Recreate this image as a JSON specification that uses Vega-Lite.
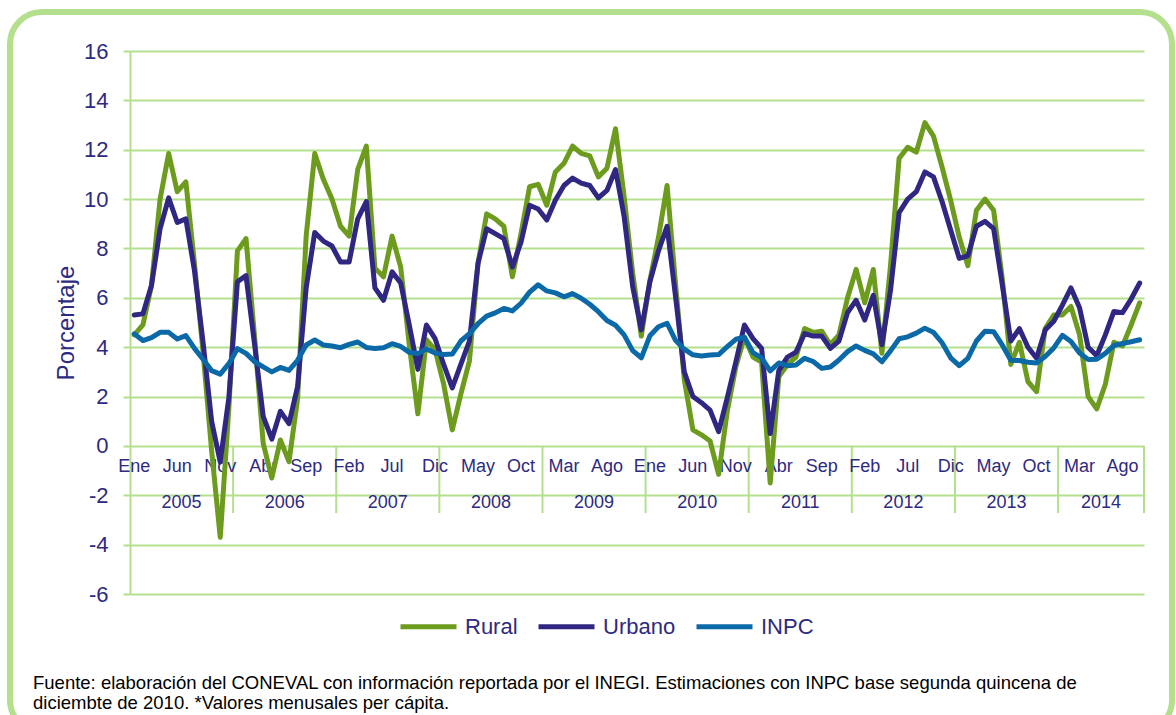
{
  "$schema": "https://vega.github.io/schema/vega-lite/v6.json",
  "autosize": {"type": "none"},
  "width": 1162,
  "height": 720,
  "padding": {"left": 10, "top": 12, "right": 4, "bottom": -17},
  "background": "white",
  "config": {
    "font": "Liberation Sans",
    "view": {"stroke": "#b4df8c", "strokeWidth": 6, "cornerRadius": 32}
  },
  "title": {
    "text": ["Fuente: elaboración del CONEVAL con información reportada por el INEGI. Estimaciones con INPC base segunda quincena de", "diciembte de 2010. *Valores menusales per cápita."],
    "orient": "bottom",
    "anchor": "start",
    "frame": "group",
    "offset": -58,
    "dx": 23,
    "fontSize": 18.5,
    "fontWeight": "normal",
    "color": "#000000",
    "font": "Liberation Sans",
    "lineHeight": 20
  },
  "data": {"values": [
    {"i":0,"anio":"2005","mes":"Ene","Rural":4.5,"Urbano":5.3,"INPC":4.54},
    {"i":1,"anio":"2005","mes":"Feb","Rural":4.9,"Urbano":5.35,"INPC":4.27},
    {"i":2,"anio":"2005","mes":"Mar","Rural":6.5,"Urbano":6.5,"INPC":4.39},
    {"i":3,"anio":"2005","mes":"Abr","Rural":10.0,"Urbano":8.8,"INPC":4.60},
    {"i":4,"anio":"2005","mes":"May","Rural":11.85,"Urbano":10.05,"INPC":4.60},
    {"i":5,"anio":"2005","mes":"Jun","Rural":10.3,"Urbano":9.05,"INPC":4.33},
    {"i":6,"anio":"2005","mes":"Jul","Rural":10.7,"Urbano":9.2,"INPC":4.47},
    {"i":7,"anio":"2005","mes":"Ago","Rural":7.4,"Urbano":7.1,"INPC":3.95},
    {"i":8,"anio":"2005","mes":"Sep","Rural":3.8,"Urbano":4.2,"INPC":3.51},
    {"i":9,"anio":"2005","mes":"Oct","Rural":-0.2,"Urbano":1.0,"INPC":3.05},
    {"i":10,"anio":"2005","mes":"Nov","Rural":-3.7,"Urbano":-0.65,"INPC":2.91},
    {"i":11,"anio":"2005","mes":"Dic","Rural":1.5,"Urbano":1.95,"INPC":3.33},
    {"i":12,"anio":"2006","mes":"Ene","Rural":7.9,"Urbano":6.65,"INPC":3.94},
    {"i":13,"anio":"2006","mes":"Feb","Rural":8.4,"Urbano":6.9,"INPC":3.75},
    {"i":14,"anio":"2006","mes":"Mar","Rural":4.4,"Urbano":4.1,"INPC":3.41},
    {"i":15,"anio":"2006","mes":"Abr","Rural":0.1,"Urbano":1.2,"INPC":3.20},
    {"i":16,"anio":"2006","mes":"May","Rural":-1.3,"Urbano":0.27,"INPC":3.00},
    {"i":17,"anio":"2006","mes":"Jun","Rural":0.24,"Urbano":1.4,"INPC":3.18},
    {"i":18,"anio":"2006","mes":"Jul","Rural":-0.64,"Urbano":0.9,"INPC":3.06},
    {"i":19,"anio":"2006","mes":"Ago","Rural":1.9,"Urbano":2.4,"INPC":3.47},
    {"i":20,"anio":"2006","mes":"Sep","Rural":8.5,"Urbano":6.4,"INPC":4.09},
    {"i":21,"anio":"2006","mes":"Oct","Rural":11.85,"Urbano":8.65,"INPC":4.29},
    {"i":22,"anio":"2006","mes":"Nov","Rural":10.8,"Urbano":8.3,"INPC":4.09},
    {"i":23,"anio":"2006","mes":"Dic","Rural":10.0,"Urbano":8.1,"INPC":4.05},
    {"i":24,"anio":"2007","mes":"Ene","Rural":8.9,"Urbano":7.45,"INPC":3.98},
    {"i":25,"anio":"2007","mes":"Feb","Rural":8.5,"Urbano":7.45,"INPC":4.11},
    {"i":26,"anio":"2007","mes":"Mar","Rural":11.2,"Urbano":9.2,"INPC":4.21},
    {"i":27,"anio":"2007","mes":"Abr","Rural":12.15,"Urbano":9.9,"INPC":3.99},
    {"i":28,"anio":"2007","mes":"May","Rural":7.2,"Urbano":6.4,"INPC":3.95},
    {"i":29,"anio":"2007","mes":"Jun","Rural":6.85,"Urbano":5.9,"INPC":3.98},
    {"i":30,"anio":"2007","mes":"Jul","Rural":8.5,"Urbano":7.05,"INPC":4.14},
    {"i":31,"anio":"2007","mes":"Ago","Rural":7.25,"Urbano":6.6,"INPC":4.03},
    {"i":32,"anio":"2007","mes":"Sep","Rural":4.1,"Urbano":4.9,"INPC":3.79},
    {"i":33,"anio":"2007","mes":"Oct","Rural":1.3,"Urbano":3.1,"INPC":3.74},
    {"i":34,"anio":"2007","mes":"Nov","Rural":4.3,"Urbano":4.9,"INPC":3.93},
    {"i":35,"anio":"2007","mes":"Dic","Rural":3.9,"Urbano":4.35,"INPC":3.76},
    {"i":36,"anio":"2008","mes":"Ene","Rural":2.5,"Urbano":3.3,"INPC":3.70},
    {"i":37,"anio":"2008","mes":"Feb","Rural":0.65,"Urbano":2.35,"INPC":3.72},
    {"i":38,"anio":"2008","mes":"Mar","Rural":2.1,"Urbano":3.3,"INPC":4.25},
    {"i":39,"anio":"2008","mes":"Abr","Rural":3.45,"Urbano":4.25,"INPC":4.55},
    {"i":40,"anio":"2008","mes":"May","Rural":7.4,"Urbano":7.4,"INPC":4.95},
    {"i":41,"anio":"2008","mes":"Jun","Rural":9.4,"Urbano":8.8,"INPC":5.26},
    {"i":42,"anio":"2008","mes":"Jul","Rural":9.2,"Urbano":8.6,"INPC":5.39},
    {"i":43,"anio":"2008","mes":"Ago","Rural":8.9,"Urbano":8.4,"INPC":5.57},
    {"i":44,"anio":"2008","mes":"Sep","Rural":6.85,"Urbano":7.25,"INPC":5.47},
    {"i":45,"anio":"2008","mes":"Oct","Rural":8.6,"Urbano":8.25,"INPC":5.78},
    {"i":46,"anio":"2008","mes":"Nov","Rural":10.5,"Urbano":9.75,"INPC":6.23},
    {"i":47,"anio":"2008","mes":"Dic","Rural":10.6,"Urbano":9.6,"INPC":6.53},
    {"i":48,"anio":"2009","mes":"Ene","Rural":9.75,"Urbano":9.15,"INPC":6.28},
    {"i":49,"anio":"2009","mes":"Feb","Rural":11.1,"Urbano":9.95,"INPC":6.20},
    {"i":50,"anio":"2009","mes":"Mar","Rural":11.45,"Urbano":10.55,"INPC":6.04},
    {"i":51,"anio":"2009","mes":"Abr","Rural":12.15,"Urbano":10.85,"INPC":6.17},
    {"i":52,"anio":"2009","mes":"May","Rural":11.85,"Urbano":10.65,"INPC":5.98},
    {"i":53,"anio":"2009","mes":"Jun","Rural":11.75,"Urbano":10.55,"INPC":5.74},
    {"i":54,"anio":"2009","mes":"Jul","Rural":10.9,"Urbano":10.05,"INPC":5.44},
    {"i":55,"anio":"2009","mes":"Ago","Rural":11.25,"Urbano":10.35,"INPC":5.08},
    {"i":56,"anio":"2009","mes":"Sep","Rural":12.85,"Urbano":11.2,"INPC":4.89},
    {"i":57,"anio":"2009","mes":"Oct","Rural":10.1,"Urbano":9.3,"INPC":4.50},
    {"i":58,"anio":"2009","mes":"Nov","Rural":7.0,"Urbano":6.45,"INPC":3.86},
    {"i":59,"anio":"2009","mes":"Dic","Rural":4.45,"Urbano":4.7,"INPC":3.57},
    {"i":60,"anio":"2010","mes":"Ene","Rural":6.7,"Urbano":6.65,"INPC":4.46},
    {"i":61,"anio":"2010","mes":"Feb","Rural":8.45,"Urbano":7.9,"INPC":4.83},
    {"i":62,"anio":"2010","mes":"Mar","Rural":10.55,"Urbano":8.9,"INPC":4.97},
    {"i":63,"anio":"2010","mes":"Abr","Rural":6.5,"Urbano":6.0,"INPC":4.27},
    {"i":64,"anio":"2010","mes":"May","Rural":2.7,"Urbano":3.0,"INPC":3.92},
    {"i":65,"anio":"2010","mes":"Jun","Rural":0.65,"Urbano":2.0,"INPC":3.69},
    {"i":66,"anio":"2010","mes":"Jul","Rural":0.45,"Urbano":1.75,"INPC":3.64},
    {"i":67,"anio":"2010","mes":"Ago","Rural":0.2,"Urbano":1.45,"INPC":3.68},
    {"i":68,"anio":"2010","mes":"Sep","Rural":-1.15,"Urbano":0.58,"INPC":3.70},
    {"i":69,"anio":"2010","mes":"Oct","Rural":1.4,"Urbano":1.95,"INPC":4.02},
    {"i":70,"anio":"2010","mes":"Nov","Rural":3.2,"Urbano":3.4,"INPC":4.32},
    {"i":71,"anio":"2010","mes":"Dic","Rural":4.4,"Urbano":4.9,"INPC":4.40},
    {"i":72,"anio":"2011","mes":"Ene","Rural":3.6,"Urbano":4.35,"INPC":3.78},
    {"i":73,"anio":"2011","mes":"Feb","Rural":3.4,"Urbano":3.95,"INPC":3.57},
    {"i":74,"anio":"2011","mes":"Mar","Rural":-1.5,"Urbano":0.5,"INPC":3.04},
    {"i":75,"anio":"2011","mes":"Abr","Rural":2.8,"Urbano":3.05,"INPC":3.36},
    {"i":76,"anio":"2011","mes":"May","Rural":3.3,"Urbano":3.6,"INPC":3.25},
    {"i":77,"anio":"2011","mes":"Jun","Rural":3.6,"Urbano":3.8,"INPC":3.28},
    {"i":78,"anio":"2011","mes":"Jul","Rural":4.75,"Urbano":4.55,"INPC":3.55},
    {"i":79,"anio":"2011","mes":"Ago","Rural":4.6,"Urbano":4.45,"INPC":3.42},
    {"i":80,"anio":"2011","mes":"Sep","Rural":4.65,"Urbano":4.45,"INPC":3.14},
    {"i":81,"anio":"2011","mes":"Oct","Rural":4.1,"Urbano":3.95,"INPC":3.20},
    {"i":82,"anio":"2011","mes":"Nov","Rural":4.5,"Urbano":4.25,"INPC":3.48},
    {"i":83,"anio":"2011","mes":"Dic","Rural":6.0,"Urbano":5.4,"INPC":3.82},
    {"i":84,"anio":"2012","mes":"Ene","Rural":7.15,"Urbano":5.9,"INPC":4.05},
    {"i":85,"anio":"2012","mes":"Feb","Rural":5.8,"Urbano":5.1,"INPC":3.87},
    {"i":86,"anio":"2012","mes":"Mar","Rural":7.15,"Urbano":6.1,"INPC":3.73},
    {"i":87,"anio":"2012","mes":"Abr","Rural":3.75,"Urbano":4.1,"INPC":3.41},
    {"i":88,"anio":"2012","mes":"May","Rural":7.3,"Urbano":6.3,"INPC":3.85},
    {"i":89,"anio":"2012","mes":"Jun","Rural":11.65,"Urbano":9.45,"INPC":4.34},
    {"i":90,"anio":"2012","mes":"Jul","Rural":12.1,"Urbano":10.0,"INPC":4.42},
    {"i":91,"anio":"2012","mes":"Ago","Rural":11.9,"Urbano":10.3,"INPC":4.57},
    {"i":92,"anio":"2012","mes":"Sep","Rural":13.1,"Urbano":11.1,"INPC":4.77},
    {"i":93,"anio":"2012","mes":"Oct","Rural":12.55,"Urbano":10.9,"INPC":4.60},
    {"i":94,"anio":"2012","mes":"Nov","Rural":11.3,"Urbano":9.9,"INPC":4.18},
    {"i":95,"anio":"2012","mes":"Dic","Rural":9.95,"Urbano":8.75,"INPC":3.57},
    {"i":96,"anio":"2013","mes":"Ene","Rural":8.45,"Urbano":7.6,"INPC":3.25},
    {"i":97,"anio":"2013","mes":"Feb","Rural":7.3,"Urbano":7.7,"INPC":3.55},
    {"i":98,"anio":"2013","mes":"Mar","Rural":9.55,"Urbano":8.9,"INPC":4.25},
    {"i":99,"anio":"2013","mes":"Abr","Rural":10.0,"Urbano":9.1,"INPC":4.65},
    {"i":100,"anio":"2013","mes":"May","Rural":9.55,"Urbano":8.8,"INPC":4.63},
    {"i":101,"anio":"2013","mes":"Jun","Rural":6.8,"Urbano":6.55,"INPC":4.09},
    {"i":102,"anio":"2013","mes":"Jul","Rural":3.3,"Urbano":4.25,"INPC":3.47},
    {"i":103,"anio":"2013","mes":"Ago","Rural":4.2,"Urbano":4.75,"INPC":3.46},
    {"i":104,"anio":"2013","mes":"Sep","Rural":2.6,"Urbano":4.0,"INPC":3.39},
    {"i":105,"anio":"2013","mes":"Oct","Rural":2.2,"Urbano":3.55,"INPC":3.36},
    {"i":106,"anio":"2013","mes":"Nov","Rural":4.75,"Urbano":4.7,"INPC":3.62},
    {"i":107,"anio":"2013","mes":"Dic","Rural":5.3,"Urbano":5.05,"INPC":3.97},
    {"i":108,"anio":"2014","mes":"Ene","Rural":5.3,"Urbano":5.7,"INPC":4.48},
    {"i":109,"anio":"2014","mes":"Feb","Rural":5.65,"Urbano":6.4,"INPC":4.23},
    {"i":110,"anio":"2014","mes":"Mar","Rural":4.5,"Urbano":5.6,"INPC":3.76},
    {"i":111,"anio":"2014","mes":"Abr","Rural":2.0,"Urbano":4.0,"INPC":3.50},
    {"i":112,"anio":"2014","mes":"May","Rural":1.5,"Urbano":3.65,"INPC":3.51},
    {"i":113,"anio":"2014","mes":"Jun","Rural":2.5,"Urbano":4.5,"INPC":3.75},
    {"i":114,"anio":"2014","mes":"Jul","Rural":4.2,"Urbano":5.45,"INPC":4.07},
    {"i":115,"anio":"2014","mes":"Ago","Rural":4.05,"Urbano":5.4,"INPC":4.15},
    {"i":116,"anio":"2014","mes":"Sep","Rural":4.9,"Urbano":5.95,"INPC":4.22},
    {"i":117,"anio":"2014","mes":"Oct","Rural":5.8,"Urbano":6.6,"INPC":4.30}
  ]},
  "layer": [
    {
      "transform": [
        {"window": [{"op": "mean", "field": "i", "as": "lim"}], "frame": [0, 1], "sort": [{"field": "i"}]},
        {"filter": "datum.mes == 'Dic'"}
      ],
      "mark": {"type": "rule", "color": "#b4df8c", "strokeWidth": 2},
      "encoding": {
        "x": {"field": "lim", "type": "quantitative", "scale": {"domain": [-0.5, 117.5], "range": [120, 1134], "nice": false, "zero": false}, "axis": null},
        "y": {"datum": 0, "type": "quantitative", "axis": {"title": "Porcentaje"}},
        "y2": {"datum": -2.72}
      }
    },
    {
      "transform": [{"filter": "datum.i == 117"}],
      "mark": {"type": "rule", "color": "#b4df8c", "strokeWidth": 2},
      "encoding": {
        "x": {"datum": 117.5, "type": "quantitative", "axis": null},
        "y": {"datum": 0, "type": "quantitative", "axis": {"title": "Porcentaje"}},
        "y2": {"datum": -2.72}
      }
    },
    {
      "transform": [{"filter": "datum.i % 5 == 0"}],
      "mark": {"type": "text", "fontSize": 18, "color": "#2e2a80", "baseline": "middle", "dy": 21},
      "encoding": {
        "x": {"field": "i", "type": "quantitative", "axis": null},
        "y": {"datum": 0, "type": "quantitative", "axis": {"title": "Porcentaje"}},
        "text": {"field": "mes", "type": "nominal"}
      }
    },
    {
      "transform": [{"aggregate": [{"op": "mean", "field": "i", "as": "centro"}], "groupby": ["anio"]}],
      "mark": {"type": "text", "fontSize": 18, "color": "#2e2a80", "baseline": "middle", "dy": 57},
      "encoding": {
        "x": {"field": "centro", "type": "quantitative", "axis": null},
        "y": {"datum": 0, "type": "quantitative", "axis": {"title": "Porcentaje"}},
        "text": {"field": "anio", "type": "nominal"}
      }
    },
    {
      "transform": [{"fold": ["Rural", "Urbano", "INPC"], "as": ["serie", "valor"]}],
      "mark": {"type": "line", "strokeWidth": 5, "strokeCap": "round", "strokeJoin": "round"},
      "encoding": {
        "x": {"field": "i", "type": "quantitative", "axis": null},
        "y": {
          "field": "valor",
          "type": "quantitative",
          "scale": {"domain": [-6, 16], "range": [582, 39], "nice": false, "zero": false},
          "axis": {
            "orient": "left",
            "offset": -120,
            "values": [-6, -4, -2, 0, 2, 4, 6, 8, 10, 12, 14, 16],
            "labelExpr": "'' + datum.value",
            "grid": true,
            "gridColor": "#b4df8c",
            "gridWidth": 2,
            "domainColor": "#b4df8c",
            "domainWidth": 2,
            "tickColor": "#b4df8c",
            "tickWidth": 2,
            "tickSize": 7,
            "labelFontSize": 22,
            "labelColor": "#2e2a80",
            "labelPadding": 15,
            "title": "Porcentaje",
            "titleFontSize": 24,
            "titleFontWeight": "normal",
            "titleColor": "#2e2a80",
            "titlePadding": 5
          }
        },
        "color": {
          "field": "serie",
          "type": "nominal",
          "scale": {"domain": ["Rural", "Urbano", "INPC"], "range": ["#6c9b1e", "#302782", "#0b69a8"]},
          "legend": {
            "orient": "none",
            "legendX": 388,
            "legendY": 584,
            "direction": "horizontal",
            "title": null,
            "symbolType": "stroke",
            "symbolSize": 3136,
            "symbolStrokeWidth": 5,
            "labelFontSize": 22,
            "labelColor": "#2e2a80",
            "labelOffset": 6,
            "columnPadding": 10,
            "padding": 0
          }
        }
      }
    }
  ]
}
